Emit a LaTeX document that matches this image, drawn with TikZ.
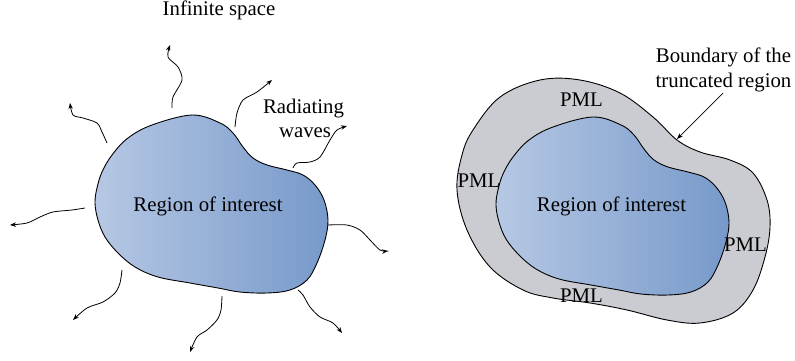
\documentclass[tikz,border=0pt]{standalone}
\usepackage{fontspec}
\setmainfont{Liberation Serif}
\usetikzlibrary{arrows.meta}
\definecolor{blobL}{HTML}{B6C8E4}
\definecolor{blobR}{HTML}{7799CA}
\definecolor{pmlgray}{HTML}{CACCD1}
\newcommand\myblob{plot[smooth cycle, tension=0.6] coordinates{(192,115)(220,123)(233,133)(243,147)(253,158)(267,165)(287,170)(303,175)(315,185)(324,200)(328,220)(325,240)(317,263)(307,280)(290,290)(267,293)(240,292)(218,288)(190,283)(158,277)(135,267)(118,253)(105,237)(98,220)(95,203)(97,188)(102,172)(112,155)(128,138)(152,125)}}
\tikzset{
  lbl/.style={anchor=base, inner sep=0pt, font=\fontsize{20.8}{24}\selectfont},
  wave/.style={line width=0.8pt, -{Stealth[length=6pt,width=4.5pt]}},
  outline/.style={draw=black, line width=0.9pt},
  regionfill/.style={left color=blobL, right color=blobR},
}
\begin{document}
\begin{tikzpicture}[x=1pt,y=-1pt]
\useasboundingbox (0,0) rectangle (795,361);
% left region
\path[outline, regionfill] \myblob;
\node[lbl] (roi1) at (208,211) {Region of interest};
\node[lbl] (inf) at (219,15.5) {Infinite space};
\node[lbl] (rad) at (303.5,113) {Radiating};
\node[lbl] (wav) at (305,137) {waves};
% radiating waves
\draw[wave] plot[smooth] coordinates{(172,108)(173,97)(182,80)(178,67)(168,57)(170,45)};
\draw[wave] plot[smooth] coordinates{(107,143)(102,132)(97,123)(83,118)(73,115)(70,103)};
\draw[wave] plot[smooth] coordinates{(235,127)(237,113)(243,100)(257,92)(272,80)};
\draw[wave] plot[smooth] coordinates{(293,168)(297,163)(310,162)(320,157)(330,140)(337,130)(347,126)};
\draw[wave] plot[smooth] coordinates{(85,208)(72,210)(53,212)(40,217)(27,223)(10,225)};
\draw[wave] plot[smooth] coordinates{(328,225)(347,225)(360,230)(370,240)(380,250)(388,251)};
\draw[wave] plot[smooth] coordinates{(122,270)(120,283)(115,293)(103,302)(87,308)(73,320)};
\draw[wave] plot[smooth] coordinates{(222,296)(221,310)(217,320)(207,330)(197,337)(190,352)};
\draw[wave] plot[smooth] coordinates{(298,290)(303,295)(310,307)(320,317)(333,323)(342,333)};
% right: truncated region with PML
\path[outline, fill=pmlgray] plot[smooth cycle, tension=0.6] coordinates{(540,80)(580,80)(620,93)(653,117)(677,140)(700,152)(730,160)(753,173)(767,200)(770,227)(765,257)(753,290)(733,313)(700,323)(667,320)(627,310)(590,303)(553,298)(523,290)(490,267)(467,230)(457,190)(462,155)(473,130)(500,97)};
\begin{scope}[shift={(401,2)}]
\path[outline, regionfill] \myblob;
\end{scope}
\node[lbl] (roi2) at (611.5,211) {Region of interest};
\node[lbl] (pmlT) at (581.5,106) {PML};
\node[lbl] (pmlL) at (479,187) {PML};
\node[lbl] (pmlR) at (745.5,251) {PML};
\node[lbl] (pmlB) at (581.5,302) {PML};
\node[lbl] (bnd1) at (723.5,63) {Boundary of the};
\node[lbl] (bnd2) at (723.5,88) {truncated region};
\coordinate (bndpt) at (677,139);
\draw[line width=0.7pt, -{Stealth[length=6pt,width=4.5pt]}] (723,93) -- (bndpt);
\end{tikzpicture}
\end{document}
